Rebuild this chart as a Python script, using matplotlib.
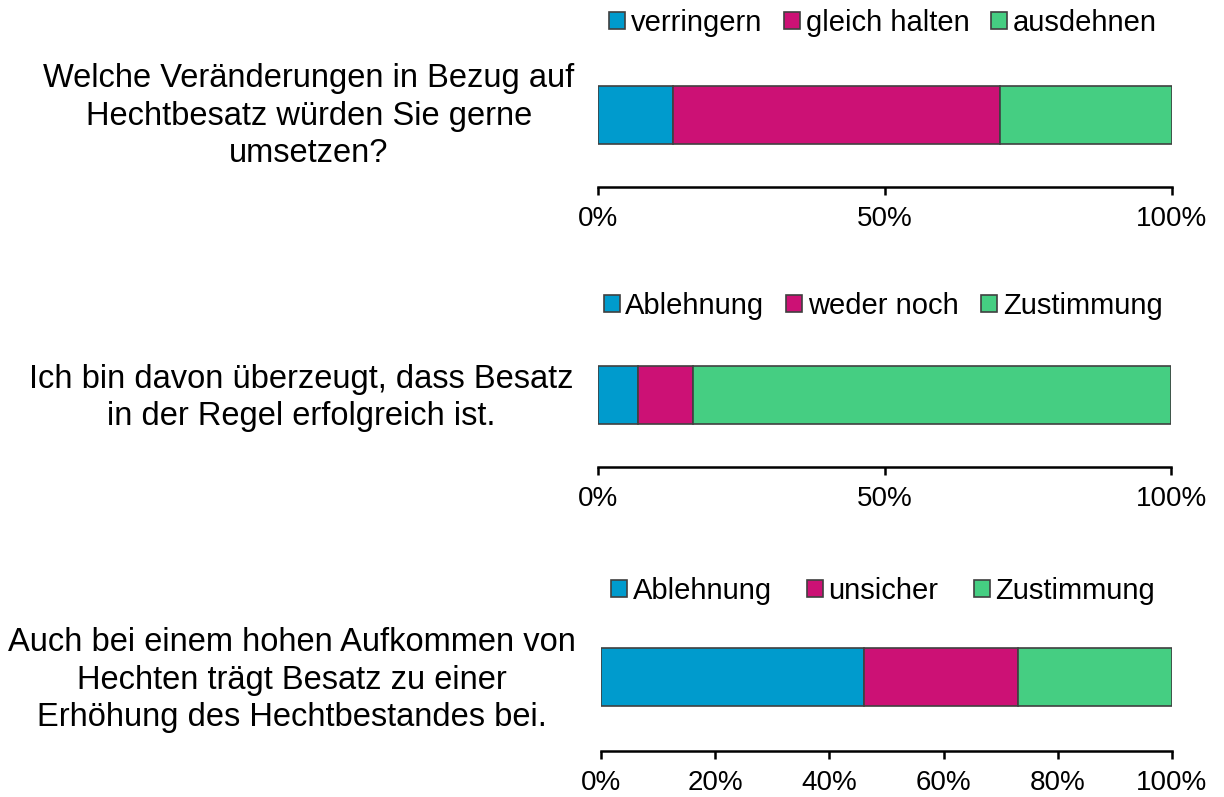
import matplotlib.pyplot as plt
from matplotlib.patches import Patch

plt.rcParams["font.family"] = ["Liberation Sans", "DejaVu Sans"]

# survey answers, share of respondents in %
questions = [
    "Welche Veränderungen in Bezug auf\nHechtbesatz würden Sie gerne\numsetzen?",
    "Ich bin davon überzeugt, dass Besatz\nin der Regel erfolgreich ist.",
    "Auch bei einem hohen Aufkommen von\nHechten trägt Besatz zu einer\nErhöhung des Hechtbestandes bei.",
]
categories = [
    ["verringern", "gleich halten", "ausdehnen"],
    ["Ablehnung", "weder noch", "Zustimmung"],
    ["Ablehnung", "unsicher", "Zustimmung"],
]
shares = [
    [13.0, 57.0, 30.0],
    [7.0, 9.6, 83.4],
    [46.0, 27.0, 27.0],
]
tick_sets = [
    [0, 50, 100],
    [0, 50, 100],
    [0, 20, 40, 60, 80, 100],
]

colors = ["#009BCD", "#CC1175", "#45CE82"]

W, H = 1224, 797
fig = plt.figure(figsize=(W / 100, H / 100), dpi=100)

# pixel layout per panel: x0, x1, bar top, bar bottom, spine y, legend y,
# legend column spacing, question centre x, question centre y
layout = [
    (598, 1172, 86, 144, 187, 23, 0.75, 309, 116),
    (598, 1171, 366, 424, 467, 306, 0.75, 301, 398),
    (601, 1172, 648, 706, 751, 591, 1.2, 292, 680),
]

for q, cats, vals, ticks, (x0, x1, bt, bb, sy, ly, cs, tx, ty) in zip(
        questions, categories, shares, tick_sets, layout):
    top = bt - 20
    ax = fig.add_axes([x0 / W, 1 - sy / H, (x1 - x0) / W, (sy - top) / H])
    unit = bb - bt
    ymax = 0.5 + (bt - top) / unit
    ymin = ymax - (sy - top) / unit

    left = 0
    for v, c in zip(vals, colors):
        ax.barh(0, v, left=left, height=1.0, color=c,
                edgecolor="#404040", linewidth=1.2)
        left += v

    ax.set_xlim(0, 100)
    ax.set_ylim(ymin, ymax)
    ax.set_xticks(ticks)
    ax.set_xticklabels([f"{t}%" for t in ticks])
    ax.set_yticks([])
    for s in ["left", "right", "top"]:
        ax.spines[s].set_visible(False)
    ax.spines["bottom"].set_linewidth(1.8)
    ax.tick_params(axis="x", direction="out", length=6, width=1.8,
                   labelsize=20, pad=8, colors="black")

    handles = [Patch(facecolor=c, edgecolor="#404040", linewidth=1.2)
               for c in colors]
    fig.legend(handles, cats, loc="center",
               bbox_to_anchor=(883 / W, 1 - ly / H),
               ncol=3, frameon=False, fontsize=21,
               handlelength=0.55, handleheight=0.55, handletextpad=0.2,
               columnspacing=cs)

    fig.text(tx / W, 1 - ty / H, q, ha="center", va="center",
             fontsize=23.5, linespacing=1.27)

fig.savefig("out.png", dpi=100)
